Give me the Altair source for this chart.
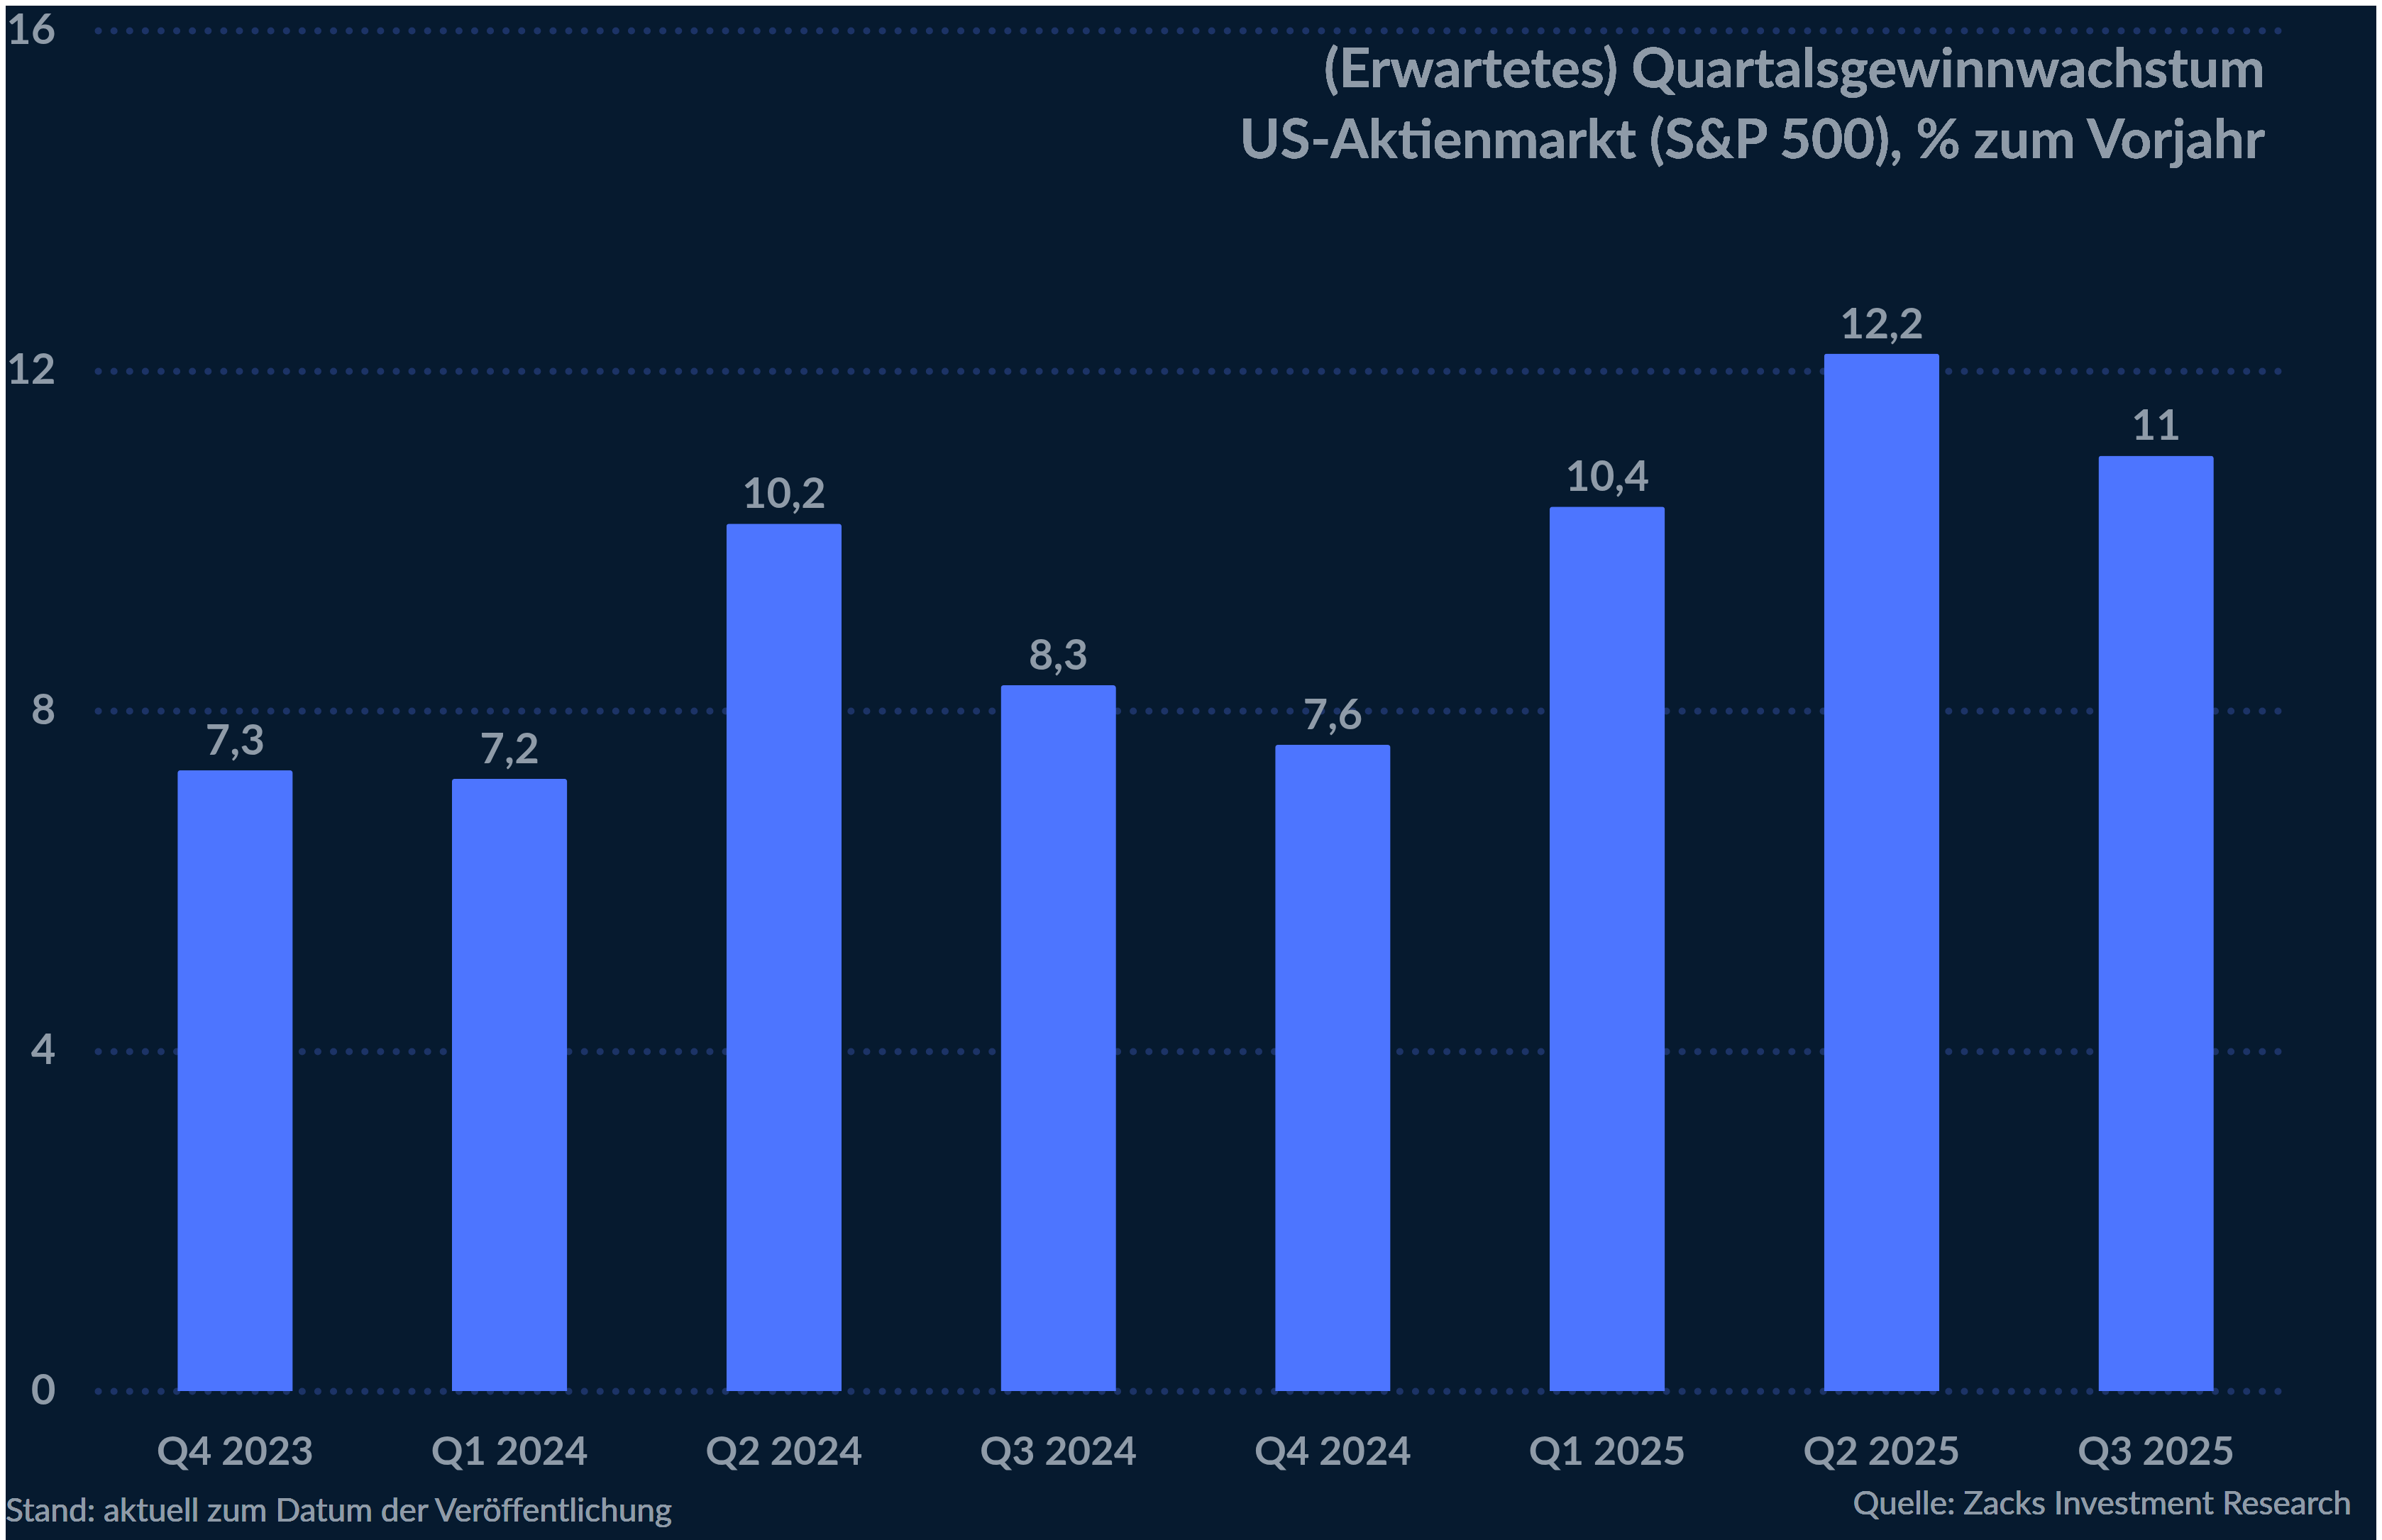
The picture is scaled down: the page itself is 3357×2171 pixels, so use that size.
import altair as alt
import pandas as pd

# values
quarters = ["Q4 2023", "Q1 2024", "Q2 2024", "Q3 2024",
            "Q4 2024", "Q1 2025", "Q2 2025", "Q3 2025"]
growth = [7.3, 7.2, 10.2, 8.3, 7.6, 10.4, 12.2, 11.0]
y_ticks = [0, 4, 8, 12, 16]

title_lines = ["(Erwartetes) Quartalsgewinnwachstum",
               "US-Aktienmarkt (S&P 500), % zum Vorjahr"]
note_left = "Stand: aktuell zum Datum der Veröffentlichung"
note_right = "Quelle: Zacks Investment Research"

BG = "#061a2f"
BAR = "#4d75ff"
TEXT = "#8f9ba8"
GRID = "#1c3366"
FONT = "Lato"

W, H = 3094, 1918
LEFT = 130

df = pd.DataFrame({"quarter": quarters, "growth": growth})

base = alt.Chart(df).transform_calculate(
    label="replace(format(datum.growth, '.1~f'), '.', ',')"
).encode(
    x=alt.X("quarter:N", sort=quarters, title=None,
            scale=alt.Scale(paddingInner=0.58, paddingOuter=0.29),
            axis=alt.Axis(labelAngle=0, domain=False, ticks=False, tickSize=0,
                          labelFont=FONT, labelFontSize=56, labelFontWeight="bold",
                          labelColor=TEXT, labelPadding=59, labelLimit=0)),
    y=alt.Y("growth:Q", title=None,
            scale=alt.Scale(domain=[0, 16], nice=False),
            axis=alt.Axis(values=y_ticks, domain=False, ticks=False, tickSize=0,
                          labelFont=FONT, labelFontSize=60, labelFontWeight="bold",
                          labelColor=TEXT, labelPadding=60,
                          grid=True, gridColor=GRID, gridWidth=10,
                          gridDash=[0.1, 22], gridCap="round")),
)

bars = base.mark_bar(color=BAR, cornerRadiusTopLeft=4, cornerRadiusTopRight=4)

labels = base.mark_text(
    font=FONT, fontSize=60, fontWeight="bold", color=TEXT,
    baseline="alphabetic", dy=-22
).encode(text="label:N")

title = alt.Chart(df).mark_text(
    text=title_lines, font=FONT, fontSize=77, fontWeight="bold", color=TEXT,
    align="right", baseline="alphabetic", lineHeight=100
).encode(x=alt.value(3192 - 8 - LEFT), y=alt.value(80))

foot_left = alt.Chart(df).mark_text(
    text=note_left, font=FONT, fontSize=46, color=TEXT,
    align="left", baseline="alphabetic"
).encode(x=alt.value(-LEFT), y=alt.value(2102))

foot_right = alt.Chart(df).mark_text(
    text=note_right, font=FONT, fontSize=46, color=TEXT,
    align="right", baseline="alphabetic"
).encode(x=alt.value(3314 - 8 - LEFT), y=alt.value(2092))

chart = alt.layer(bars, labels, title, foot_left, foot_right).properties(
    width=W, height=H,
    autosize=alt.AutoSizeParams(type="none"),
    padding={"left": LEFT, "top": 35, "right": 3341 - LEFT - W, "bottom": 210},
    background=BG,
).configure_view(stroke=None)

chart.save("out.html", embed_options={"renderer": "svg", "actions": False})
